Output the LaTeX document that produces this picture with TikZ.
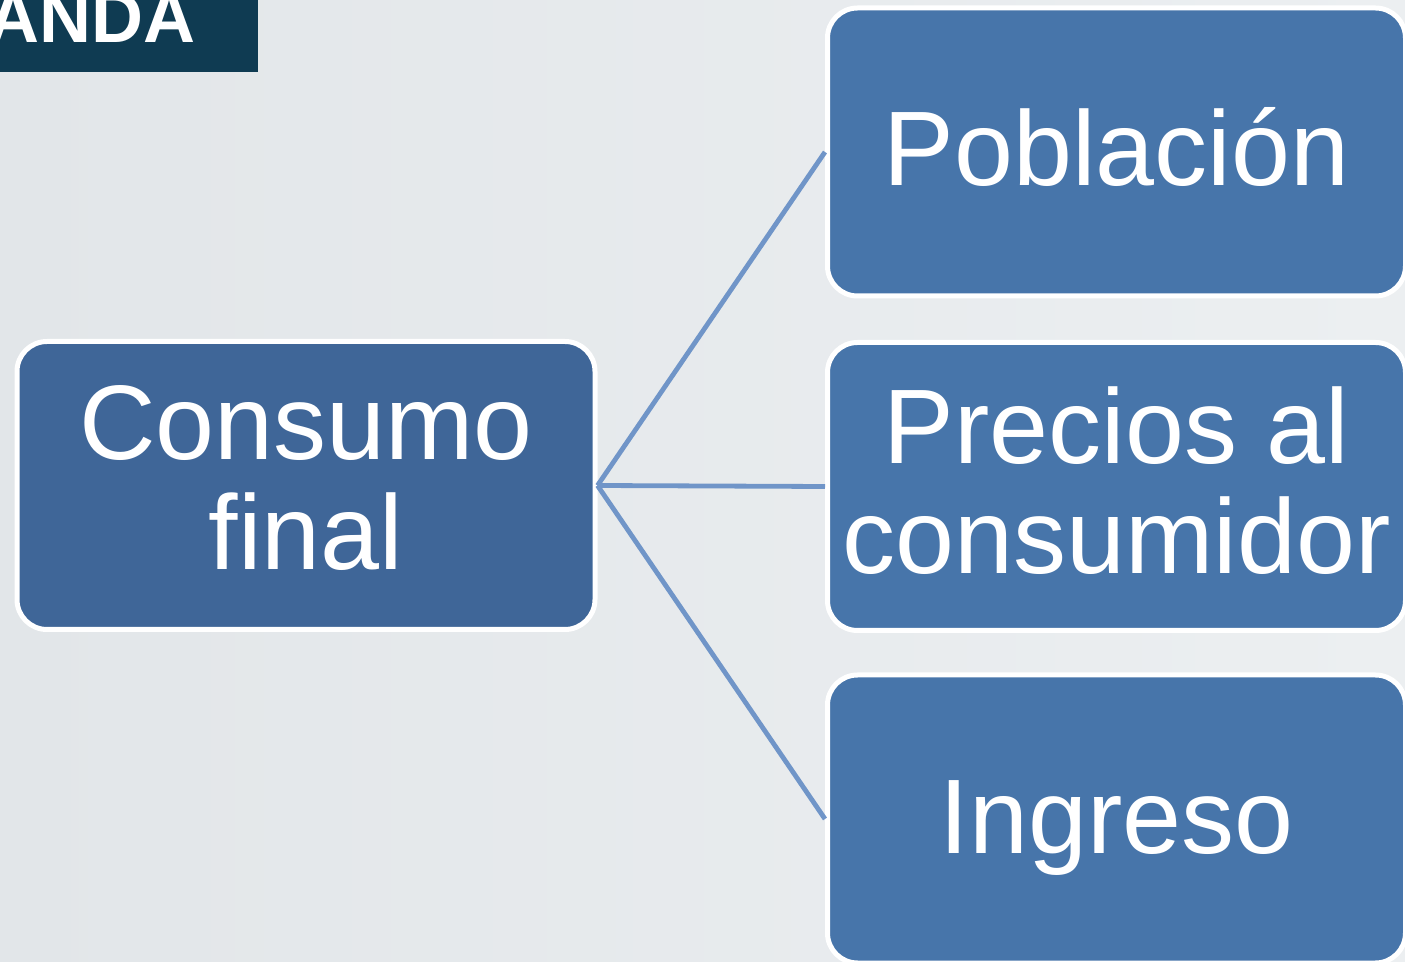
\documentclass[tikz,border=0pt]{standalone}
\usepackage{fontspec}
\setmainfont{Liberation Sans}
\usepackage{tikz}
\usetikzlibrary{positioning}

\definecolor{fondoA}{HTML}{E2E6E9}
\definecolor{fondoB}{HTML}{ECEFF1}
\definecolor{azulOsc}{HTML}{3F6698}
\definecolor{azulCaja}{HTML}{4775AA}
\definecolor{lineaAzul}{HTML}{7095C8}
\definecolor{titulo}{HTML}{0F3B52}

\tikzset{
    caja/.style={
        rectangle, rounded corners=15pt, draw=white, line width=2.5pt,
        fill=azulCaja, text=white, align=center, inner sep=0pt,
        minimum width=289pt, minimum height=144pt,
        font=\fontsize{53}{55}\selectfont
    },
    enlace/.style={draw=lineaAzul, line width=2.4pt}
}

\begin{document}
\begin{tikzpicture}[x=0.5pt,y=-0.5pt]
\useasboundingbox (0,0) rectangle (1405,962);
\clip (0,0) rectangle (1405,962);
\shade[left color=fondoA, right color=fondoB] (0,0) rectangle (1405,962);

% titulo recortado
\fill[titulo] (0,0) rectangle (258,72);
\node[anchor=base east, text=white, inner sep=0pt,
      font=\fontsize{36}{36}\bfseries\selectfont] (tit) at (196,43) {ANDA};

% cajas
\node[caja, fill=azulOsc, text depth=8pt] (consumo) at (306,485.5) {Consumo\\final};
\node[caja, text depth=6pt] (poblacion) at (1116.5,152) {Población};
\node[caja, text depth=6pt] (precios) at (1116.5,486.5) {Precios al\\consumidor};
\node[caja, text height=45pt] (ingreso) at (1116.5,819) {Ingreso};

% enlaces
\draw[enlace] (consumo.east) -- (poblacion.west);
\draw[enlace] (consumo.east) -- (precios.west);
\draw[enlace] (consumo.east) -- (ingreso.west);
\end{tikzpicture}
\end{document}
